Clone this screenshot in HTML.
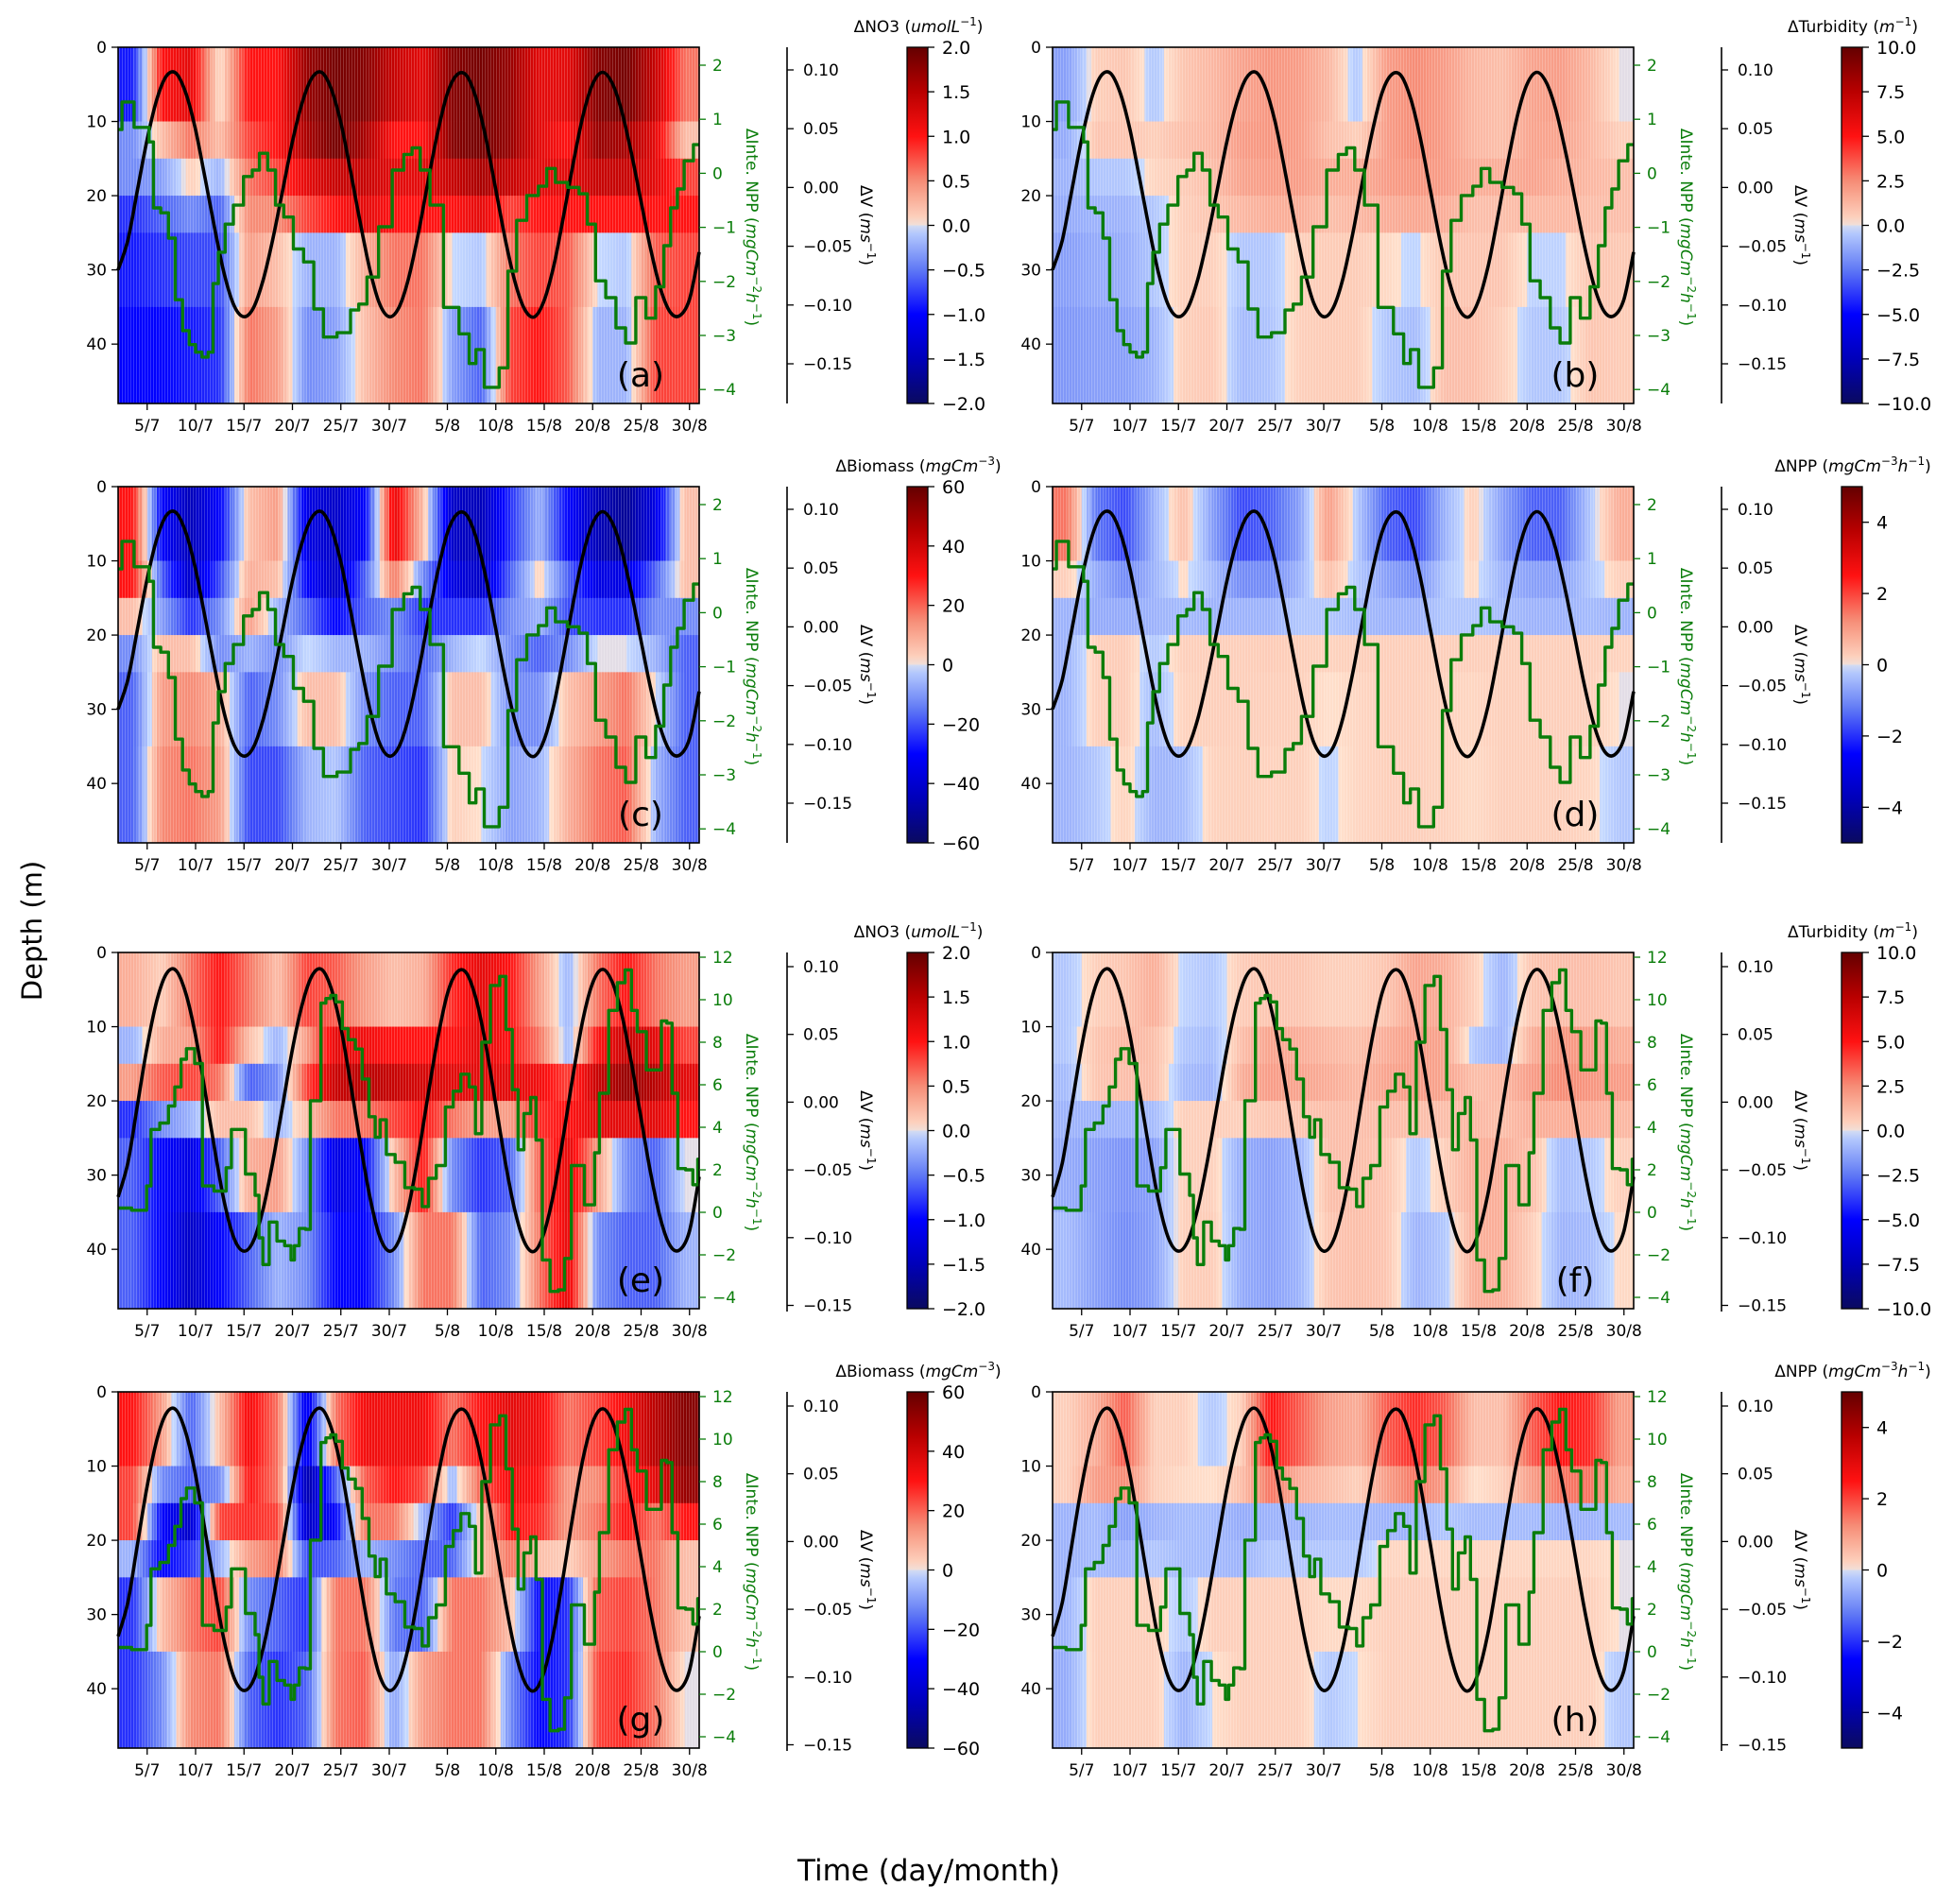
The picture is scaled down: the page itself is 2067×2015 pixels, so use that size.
<!DOCTYPE html>
<html><head><meta charset="utf-8">
<style>
html,body{margin:0;padding:0;background:#fff;}
svg{display:block;font-family:"DejaVu Sans","Liberation Sans",sans-serif;}
</style></head>
<body>
<svg id="fig" width="2067" height="2015" viewBox="0 0 2067 2015" xmlns="http://www.w3.org/2000/svg">
<defs>
<pattern id="stripes" width="3" height="10" patternUnits="userSpaceOnUse"><rect x="0" y="0" width="1" height="10" fill="#fff" opacity="0.2"/></pattern>
</defs>
<text x="0" y="0" transform="translate(44,985) rotate(-90)" text-anchor="middle" font-size="29">Depth (m)</text>
<text x="983" y="1990" text-anchor="middle" font-size="31">Time (day/month)</text>
</svg>
<script>
// ---- shared data ----
const layerDepths = [0, 10, 15, 20, 25, 35, 48];
const dateTicksDay = [3, 8, 13, 18, 23, 28, 34, 39, 44, 49, 54, 59];
const dateTickLabels = ["5/7","10/7","15/7","20/7","25/7","30/7","5/8","10/8","15/8","20/8","25/8","30/8"];
const depthTicks = [0, 10, 20, 30, 40];
// velocity anomaly, one value per day from 2/7
const vVals = [-0.07,-0.045,-0.002,0.041,0.075,0.095,0.097,0.080,0.049,0.007,
-0.036,-0.075,-0.101,-0.110,-0.102,-0.078,-0.043,-0.002,0.039,0.072,
0.093,0.098,0.084,0.055,0.014,-0.030,-0.070,-0.099,-0.110,-0.102,
-0.077,-0.039,0.005,0.047,0.080,0.096,0.095,0.075,0.041,-0.002,
-0.045,-0.081,-0.104,-0.110,-0.096,-0.066,-0.024,0.021,0.061,0.088,
0.098,0.089,0.065,0.029,-0.012,-0.053,-0.086,-0.106,-0.109,-0.095,-0.055];
const vTicks = [0.10, 0.05, 0.00, -0.05, -0.10, -0.15];
// integrated NPP anomaly, scenario 1 (rows 1-2)
const nppT1 = [0,0.8,1.4,1.9,3,3.4,3.9,4.9,5.5,6.3,7,7.7,8.3,9,9.6,10,10.7,11.4,12.4,13.5,14.2,15,15.9,16.6,17.6,18.6,19.7,20.7,21.7,23.5,24.5,25.2,26.2,27.6,29,30,30.7,31.7,32.7,34.5,35.9,36.6,37.3,38.3,39,39.7,40.8,41.5,42.9,43.9,44.6,45.7,47.1,48.1,48.8,49.8,50.9,51.9,52.9,54,55,56,56.7,57.4,58.1,58.8,60];
const nppV1 = [0.81,1.32,1.32,0.85,0.85,0.58,-0.64,-0.73,-1.2,-2.34,-2.91,-3.17,-3.31,-3.4,-3.31,-2.04,-1.46,-0.94,-0.59,-0.06,0.06,0.37,0.06,-0.59,-0.81,-1.4,-1.64,-2.51,-3.03,-2.95,-2.53,-2.42,-1.92,-0.99,0.06,0.35,0.47,0.06,-0.59,-2.48,-2.97,-3.52,-3.26,-3.96,-3.96,-3.6,-1.81,-0.87,-0.41,-0.24,0.09,-0.17,-0.26,-0.38,-0.94,-1.99,-2.3,-2.86,-3.14,-2.3,-2.68,-2.1,-1.34,-0.64,-0.29,0.23,0.53];
const nppTicks1 = [2, 1, 0, -1, -2, -3, -4];
// integrated NPP anomaly, scenario 2 (rows 3-4)
const nppT3 = [0,2.8,3.1,3.7,4.9,5.5,6.2,6.8,7.3,8.5,8.9,10.9,11.4,12,13,13.3,14,14.3,14.8,15.1,16.1,16.7,17.7,18,18.4,19,19.7,20,20.8,21.1,21.8,22.1,22.9,23.4,24.1,24.9,25.5,26.3,26.8,27.3,28.1,29.1,30.1,31.1,31.7,32.4,33.3,34.3,34.9,35.9,36.6,37.2,37.9,39,39.8,40.3,41.1,41.5,42.3,42.9,43.4,44.2,45,45.9,46.3,47.3,48,48.3,49.1,49.3,50.1,51.2,51.9,52.8,53.2,54,55.1,55.9,56.3,57,57.4,58.2,59,59.7,60];
const nppV3 = [0.2,0.1,1.24,3.9,4.2,5.0,5.9,7.2,7.7,7.0,1.24,1.0,2.1,3.9,3.9,1.8,1.8,0.8,-1.2,-2.46,-0.46,-1.35,-1.57,-2.24,-1.57,-0.76,-0.8,5.25,5.25,9.84,10.06,10.2,9.9,8.64,8.12,7.68,6.27,4.5,3.53,4.35,2.72,2.35,1.16,1.09,0.27,1.6,2.2,4.95,5.7,6.5,5.9,3.7,8.0,10.67,11.1,8.6,5.77,2.94,4.65,5.4,3.4,-2.24,-3.72,-3.65,-2.17,2.2,2.2,0.35,0.35,2.8,5.6,9.5,10.8,11.4,9.5,8.5,6.7,6.7,9.0,8.9,5.6,2.06,2.0,1.3,2.5];
const nppTicks3 = [12, 10, 8, 6, 4, 2, 0, -2, -4];

// heatmap anomalies (fraction of colour range), layers x 3-day segments
const heatA = [
[-0.45,0.5,0.6,0.0,0.5,0.5,0.85,0.95,0.9,0.7,0.6,0.9,0.95,0.85,0.6,0.6,0.9,0.95,0.7,0.3],
[-0.2,0.1,0.3,0.1,0.4,0.5,0.8,0.95,0.8,0.5,0.5,0.9,0.95,0.85,0.6,0.5,0.85,0.8,0.6,0.1],
[-0.2,-0.15,0.05,-0.1,0.3,0.4,0.6,0.7,0.7,0.6,0.6,0.7,0.8,0.7,0.6,0.6,0.7,0.7,0.6,0.4],
[-0.4,-0.3,-0.2,-0.3,0.25,0.25,0.4,0.5,0.6,0.5,0.5,0.5,0.6,0.4,0.5,0.5,0.5,0.5,0.5,0.5],
[-0.45,-0.4,-0.35,-0.35,0.2,0.1,-0.1,-0.1,0.15,0.3,0.3,0.0,-0.05,0.3,0.4,0.35,0.0,-0.05,0.35,0.4],
[-0.5,-0.5,-0.45,-0.4,0.3,0.2,-0.2,-0.15,0.1,0.25,0.3,-0.15,-0.3,0.4,0.5,0.35,-0.1,-0.1,0.4,0.4]];
const heatB = [
[-0.15,0.05,0.08,-0.05,0.08,0.12,0.18,0.22,0.2,0.12,-0.05,0.2,0.25,0.2,0.12,0.1,0.18,0.2,0.12,0.0],
[-0.12,0.08,0.08,0.05,0.1,0.12,0.2,0.22,0.2,0.1,0.05,0.2,0.25,0.2,0.12,0.1,0.18,0.18,0.12,0.05],
[-0.1,-0.05,-0.05,0.03,0.06,0.1,0.18,0.2,0.2,0.15,0.15,0.2,0.22,0.2,0.15,0.15,0.18,0.15,0.12,0.1],
[-0.12,-0.1,-0.1,-0.05,0.05,0.08,0.12,0.15,0.15,0.1,0.12,0.15,0.17,0.15,0.1,0.1,0.12,0.12,0.1,0.1],
[-0.15,-0.12,-0.12,-0.05,0.05,0.05,-0.05,-0.05,0.05,0.06,0.06,0.02,-0.02,0.08,0.08,0.08,-0.02,-0.02,0.08,0.07],
[-0.17,-0.15,-0.15,-0.1,0.05,0.07,-0.08,-0.06,0.05,0.06,0.06,-0.05,-0.08,0.1,0.1,0.05,-0.05,-0.05,0.08,0.06]];
const heatC = [
[0.5,-0.5,-0.75,-0.5,0.1,0.2,-0.6,-0.7,-0.5,0.6,0.1,-0.7,-0.75,-0.4,-0.1,-0.5,-0.75,-0.85,-0.6,0.1],
[0.5,-0.3,-0.7,-0.35,0.15,0.1,-0.5,-0.7,-0.3,0.3,-0.2,-0.6,-0.7,-0.3,0.05,-0.3,-0.6,-0.6,-0.3,0.1],
[0.1,-0.15,-0.4,-0.2,0.2,-0.1,-0.3,-0.5,-0.3,-0.2,-0.4,-0.4,-0.4,-0.2,-0.1,-0.35,-0.4,-0.4,-0.2,-0.2],
[-0.2,0.1,0.1,-0.2,-0.1,-0.2,0.0,-0.1,-0.1,-0.2,-0.3,-0.1,0.0,-0.2,-0.3,-0.2,0.0,0.0,-0.1,-0.3],
[-0.3,0.2,0.25,0.15,-0.3,-0.2,0.1,0.1,-0.2,-0.3,-0.3,0.1,0.1,-0.2,-0.2,0.1,0.2,0.3,0.0,-0.3],
[-0.3,0.25,0.3,0.2,-0.35,-0.35,-0.1,-0.05,-0.3,-0.35,-0.4,0.05,0.0,-0.15,-0.1,0.15,0.3,0.35,-0.1,-0.3]];
const heatD = [
[0.3,-0.25,-0.35,-0.1,0.1,-0.15,-0.35,-0.3,-0.15,0.2,-0.05,-0.3,-0.35,-0.1,0.05,-0.15,-0.3,-0.3,-0.05,0.15],
[0.05,-0.12,-0.2,-0.1,0.02,-0.08,-0.2,-0.2,-0.1,0.1,-0.05,-0.15,-0.2,-0.05,0.02,-0.1,-0.15,-0.15,-0.05,0.05],
[-0.1,-0.12,-0.12,-0.1,-0.08,-0.1,-0.1,-0.1,-0.05,-0.05,-0.08,-0.1,-0.1,-0.05,-0.05,-0.08,-0.1,-0.1,-0.08,-0.1],
[-0.1,0.05,0.06,-0.05,0.05,0.05,0.05,0.06,0.05,0.04,0.05,0.05,0.05,0.05,0.05,0.05,0.05,0.05,0.05,0.04],
[-0.1,0.05,0.06,-0.08,0.04,0.05,0.05,0.05,0.05,0.0,0.03,0.05,0.05,0.04,0.03,0.05,0.05,0.05,0.05,0.0],
[-0.1,-0.05,0.04,-0.1,-0.08,0.04,0.05,0.04,0.05,-0.02,0.03,0.05,0.05,0.04,0.02,0.05,0.05,0.05,0.03,-0.05]];
const heatE = [
[0.15,0.05,0.3,0.5,0.3,0.1,0.4,0.35,0.2,0.1,0.15,0.45,0.6,0.5,0.2,-0.1,0.3,0.5,0.3,0.2],
[-0.1,0.15,0.2,0.5,0.1,-0.1,0.2,0.6,0.55,0.5,0.5,0.5,0.6,0.5,0.3,-0.1,0.5,0.7,0.6,0.4],
[0.2,0.35,0.4,0.3,-0.3,-0.2,0.4,0.7,0.75,0.7,0.65,0.6,0.6,0.6,0.55,0.4,0.7,0.85,0.75,0.6],
[-0.4,-0.2,-0.1,0.1,0.1,-0.1,0.1,0.3,0.3,0.4,0.5,0.3,0.2,0.2,0.45,0.5,0.6,0.6,0.6,0.5],
[-0.3,-0.5,-0.6,-0.3,0.15,0.2,-0.2,-0.6,-0.5,0.1,0.5,-0.2,-0.4,-0.3,0.35,0.6,0.2,-0.2,-0.3,0.0],
[-0.3,-0.5,-0.7,-0.5,-0.3,-0.1,-0.2,-0.5,-0.5,-0.2,0.3,0.3,-0.3,-0.2,0.3,0.6,-0.2,-0.3,-0.3,-0.1]];
const heatF = [
[-0.05,0.05,0.08,0.15,-0.02,-0.05,0.06,0.08,0.08,0.05,0.05,0.08,0.18,0.15,0.05,-0.1,0.08,0.1,0.1,0.08],
[-0.05,0.08,0.12,0.1,-0.05,-0.08,0.1,0.18,0.15,0.12,0.1,0.15,0.2,0.18,-0.05,-0.1,0.15,0.22,0.2,0.15],
[-0.08,0.08,0.1,0.1,-0.08,-0.1,0.15,0.2,0.18,0.15,0.12,0.18,0.2,0.18,0.1,0.12,0.2,0.25,0.22,0.2],
[-0.1,-0.1,-0.1,-0.08,0.05,0.05,0.05,0.08,0.08,0.1,0.1,0.1,0.1,0.1,0.12,0.1,0.15,0.15,0.15,0.12],
[-0.12,-0.15,-0.18,-0.15,0.05,0.05,-0.12,-0.15,-0.1,0.1,0.1,0.08,-0.05,0.05,0.15,0.15,0.1,-0.08,-0.05,0.05],
[-0.08,-0.15,-0.2,-0.15,0.05,0.06,-0.12,-0.15,-0.1,0.08,0.1,0.08,-0.1,-0.05,0.15,0.15,0.05,-0.1,-0.08,0.02]];
const heatG = [
[0.5,0.2,-0.3,0.1,0.55,0.3,-0.6,0.3,0.55,0.55,0.55,0.3,0.5,0.6,0.55,0.3,0.4,0.55,0.75,0.9],
[0.4,-0.2,-0.3,-0.2,0.5,0.3,-0.8,-0.3,0.35,0.5,0.4,-0.1,0.35,0.55,0.5,0.2,0.25,0.45,0.6,0.85],
[0.4,-0.5,-0.7,0.4,0.45,0.4,-0.7,-0.5,0.3,0.3,-0.1,-0.4,0.1,0.5,0.45,0.2,0.3,0.5,0.3,0.5],
[-0.1,-0.5,-0.4,-0.1,0.2,0.3,-0.35,-0.3,-0.1,-0.2,-0.3,-0.3,0.1,0.3,0.1,0.05,0.2,0.3,0.3,0.1],
[-0.4,0.1,0.3,0.4,-0.2,-0.3,-0.4,0.3,0.3,-0.25,-0.3,0.3,0.3,0.1,-0.5,-0.4,0.35,0.4,0.3,0.1],
[-0.4,-0.2,0.25,0.3,-0.3,-0.4,-0.3,0.3,0.35,-0.15,0.2,0.3,0.3,-0.2,-0.5,-0.4,0.4,0.45,0.3,0.0]];
const heatH = [
[0.05,0.15,0.35,0.05,0.05,-0.05,0.05,0.5,0.35,0.2,0.15,0.35,0.45,0.35,0.1,0.1,0.35,0.5,0.45,0.2],
[0.05,0.2,0.25,0.05,0.02,0.0,0.1,0.3,0.15,0.1,0.05,0.2,0.3,0.2,0.0,0.05,0.2,0.3,0.3,0.15],
[-0.1,-0.08,-0.15,-0.1,-0.08,-0.08,-0.12,-0.1,-0.1,-0.08,-0.08,-0.1,-0.1,-0.05,-0.08,-0.08,-0.08,-0.1,-0.1,-0.08],
[-0.1,-0.08,-0.1,-0.05,-0.08,-0.08,-0.1,-0.05,-0.05,-0.05,-0.05,0.03,0.03,0.03,0.03,0.03,0.03,0.03,0.03,0.0],
[-0.1,0.05,0.05,0.05,-0.05,0.05,0.05,0.05,0.05,0.02,0.02,0.05,0.05,0.05,0.05,0.05,0.05,0.05,0.05,0.0],
[-0.12,0.05,0.05,0.05,-0.1,0.0,0.05,0.05,0.05,-0.05,0.0,0.05,0.05,0.05,0.05,0.05,0.05,0.05,0.05,-0.05]];

const cbNO3 = [2.0,1.5,1.0,0.5,0.0,-0.5,-1.0,-1.5,-2.0];
const cbTurb = [10.0,7.5,5.0,2.5,0.0,-2.5,-5.0,-7.5,-10.0];
const cbBio = [60,40,20,0,-20,-40,-60];
const cbNPP = [4,2,0,-2,-4];

// ---- rendering ----
const NS = "http://www.w3.org/2000/svg";
const svg = document.getElementById('fig');
function mk(tag, attrs, parent) {
  const e = document.createElementNS(NS, tag);
  for (const k in attrs) e.setAttribute(k, attrs[k]);
  (parent || svg).appendChild(e);
  return e;
}
const stops = [[-1,[10,10,95]],[-0.75,[0,0,185]],[-0.5,[0,0,255]],[-0.25,[95,120,245]],[-0.0001,[198,218,255]],[0.0001,[255,224,204]],[0.25,[246,140,118]],[0.5,[255,18,18]],[0.75,[185,0,0]],[1,[100,0,0]]];
function cmap(v) {
  v = Math.max(-1, Math.min(1, v));
  for (let i = 0; i < stops.length - 1; i++) {
    const a = stops[i], b = stops[i+1];
    if (v >= a[0] && v <= b[0]) {
      const f = (v - a[0]) / (b[0] - a[0]);
      const c = a[1].map((x, j) => Math.round(x + (b[1][j] - x) * f));
      return 'rgb(' + c.join(',') + ')';
    }
  }
  return 'rgb(255,255,255)';
}
function fmtMinus(s) { return String(s).replace('-', '\u2212'); }

const colX = [125, 1114];
const rowY = [50, 515, 1008, 1473];
const PW = 615, PH = 377, DAYS = 60, DMAX = 48;
const panels = [
  {id:'a', heat:heatA, row:0, col:0, cb:cbNO3, vmax:2, dec:1, title:'\u0394NO3 ', unit:'umolL', sup:'\u22121'},
  {id:'b', heat:heatB, row:0, col:1, cb:cbTurb, vmax:10, dec:1, title:'\u0394Turbidity ', unit:'m', sup:'\u22121'},
  {id:'c', heat:heatC, row:1, col:0, cb:cbBio, vmax:60, dec:0, title:'\u0394Biomass ', unit:'mgCm', sup:'\u22123'},
  {id:'d', heat:heatD, row:1, col:1, cb:cbNPP, vmax:5, dec:0, title:'\u0394NPP ', unit:'mgCm', sup:'\u22123', unit2:'h', sup2:'\u22121'},
  {id:'e', heat:heatE, row:2, col:0, cb:cbNO3, vmax:2, dec:1, title:'\u0394NO3 ', unit:'umolL', sup:'\u22121'},
  {id:'f', heat:heatF, row:2, col:1, cb:cbTurb, vmax:10, dec:1, title:'\u0394Turbidity ', unit:'m', sup:'\u22121'},
  {id:'g', heat:heatG, row:3, col:0, cb:cbBio, vmax:60, dec:0, title:'\u0394Biomass ', unit:'mgCm', sup:'\u22123'},
  {id:'h', heat:heatH, row:3, col:1, cb:cbNPP, vmax:5, dec:0, title:'\u0394NPP ', unit:'mgCm', sup:'\u22123', unit2:'h', sup2:'\u22121'}
];

function addText(parent, x, y, txt, size, anchor, fill) {
  const t = mk('text', {x:x, y:y, 'font-size':size, 'text-anchor':anchor || 'start', fill: fill || '#000'}, parent);
  t.textContent = txt;
  return t;
}

panels.forEach(p => {
  const x0 = colX[p.col], y0 = rowY[p.row];
  const g = mk('g', {});
  
  
  const xS = t => x0 + t / DAYS * PW;
  const yS = d => y0 + d / DMAX * PH;
  const late = p.row >= 2;
  const greenY = late ? (v => y0 + 5 + (12 - v) * 22.5) : (v => y0 + 19 + (2 - v) * 57.2);
  const vY = late ? (v => y0 + 15 + (0.10 - v) / 0.05 * 71.7) : (v => y0 + 24 + (0.10 - v) / 0.05 * 62.2);

  const hm = mk('g', {}, g);
  
  
  const nSeg = p.heat[0].length, segLen = DAYS / nSeg, nCol = 120;
  for (let L = 0; L < p.heat.length; L++) {
    const vals = p.heat[L];
    for (let c = 0; c < nCol; c++) {
      const t0 = c * DAYS / nCol, t1 = (c + 1) * DAYS / nCol, tc = (t0 + t1) / 2;
      let s = tc / segLen - 0.5;
      s = Math.max(0, Math.min(nSeg - 1, s));
      const i = Math.floor(s), j = Math.min(nSeg - 1, i + 1), f = s - i;
      const v = vals[i] + (vals[j] - vals[i]) * f;
      const r = mk('rect', {x:xS(t0).toFixed(2), y:yS(layerDepths[L]).toFixed(2), width:(xS(t1)-xS(t0)+0.6).toFixed(2), height:(yS(layerDepths[L+1])-yS(layerDepths[L])+0.4).toFixed(2), fill:cmap(v)}, hm);
      
      
    }
  }
  const st = mk('rect', {x:x0, y:y0, width:PW, height:PH, fill:'url(#stripes)'}, g);
  
  

  const pts = vVals.map((v, i) => [xS(i), vY(v)]);
  let d = 'M' + pts[0][0].toFixed(1) + ',' + pts[0][1].toFixed(1);
  for (let i = 0; i < pts.length - 1; i++) {
    const p0 = pts[Math.max(0, i-1)], p1 = pts[i], p2 = pts[i+1], p3 = pts[Math.min(pts.length-1, i+2)];
    const c1 = [p1[0] + (p2[0]-p0[0])/6, p1[1] + (p2[1]-p0[1])/6];
    const c2 = [p2[0] - (p3[0]-p1[0])/6, p2[1] - (p3[1]-p1[1])/6];
    d += ' C' + c1[0].toFixed(1) + ',' + c1[1].toFixed(1) + ' ' + c2[0].toFixed(1) + ',' + c2[1].toFixed(1) + ' ' + p2[0].toFixed(1) + ',' + p2[1].toFixed(1);
  }
  const vl = mk('path', {d:d, fill:'none', stroke:'#000', 'stroke-width':3.6}, g);
  
  

  // NPP line (green), step-mid
  const T = late ? nppT3 : nppT1, V = late ? nppV3 : nppV1;
  let gd = 'M' + xS(T[0]).toFixed(1) + ',' + greenY(V[0]).toFixed(1);
  for (let i = 1; i < T.length; i++) {
    const xm = xS((T[i-1] + T[i]) / 2);
    gd += ' H' + xm.toFixed(1) + ' V' + greenY(V[i]).toFixed(1);
  }
  gd += ' H' + xS(T[T.length-1]).toFixed(1);
  const gl = mk('path', {d:gd, fill:'none', stroke:'#0a7d0a', 'stroke-width':3.4, 'stroke-linejoin':'round'}, g);
  
  

  const fr = mk('rect', {x:x0, y:y0, width:PW, height:PH, fill:'none', stroke:'#000', 'stroke-width':1.6}, g);
  
  

  depthTicks.forEach(dv => {
    mk('line', {x1:x0-7, x2:x0, y1:yS(dv), y2:yS(dv), stroke:'#000', 'stroke-width':1.3}, g);
    const t = addText(g, x0-12, yS(dv)+6, String(dv), 17, 'end');
    
    
  });
  dateTicksDay.forEach((dd, i) => {
    mk('line', {x1:xS(dd), x2:xS(dd), y1:y0+PH, y2:y0+PH+7, stroke:'#000', 'stroke-width':1.3}, g);
    const t = addText(g, xS(dd), y0+PH+29, dateTickLabels[i], 17, 'middle');
    
    
  });
  (late ? nppTicks3 : nppTicks1).forEach(v => {
    mk('line', {x1:x0+PW, x2:x0+PW+7, y1:greenY(v), y2:greenY(v), stroke:'#0a7d0a', 'stroke-width':1.3}, g);
    const t = addText(g, x0+PW+14, greenY(v)+6, fmtMinus(v), 17, 'start', '#0a7d0a');
    
    
  });
  const gt = mk('text', {transform:'translate(' + (x0+665) + ',' + (y0+PH/2+2) + ') rotate(90)', 'font-size':17, 'text-anchor':'middle', fill:'#0a7d0a'}, g);
  
  
  gt.innerHTML = '\u0394Inte. NPP (<tspan font-style="italic">mgCm</tspan><tspan font-size="12" dy="-7">\u22122</tspan><tspan font-style="italic" dy="7">h</tspan><tspan font-size="12" dy="-7">\u22121</tspan><tspan dy="7">)</tspan>';

  const ax = x0 + 708;
  mk('line', {x1:ax, x2:ax, y1:y0, y2:y0+PH+(late?3:0), stroke:'#000', 'stroke-width':1.6}, g);
  vTicks.forEach(v => {
    mk('line', {x1:ax, x2:ax+7, y1:vY(v), y2:vY(v), stroke:'#000', 'stroke-width':1.3}, g);
    const t = addText(g, ax+17, vY(v)+6, fmtMinus(v.toFixed(2)), 17, 'start');
    
    
  });
  const vt = mk('text', {transform:'translate(' + (x0+786) + ',' + (y0+PH/2) + ') rotate(90)', 'font-size':17, 'text-anchor':'middle'}, g);
  
  
  vt.innerHTML = '\u0394V (<tspan font-style="italic">ms</tspan><tspan font-size="12" dy="-7">\u22121</tspan><tspan dy="7">)</tspan>';

  const cx = x0 + 835, cw = 22;
  const gid = 'grad' + p.id;
  const lg = mk('linearGradient', {id:gid, x1:0, y1:1, x2:0, y2:0}, svg.querySelector('defs'));
  for (let k = 0; k <= 40; k++) {
    const v = -1 + k / 20;
    mk('stop', {offset:(k/40), 'stop-color':cmap(v === 0 ? -0.00005 : v)}, lg);
    if (k === 20) mk('stop', {offset:0.5, 'stop-color':cmap(0.00005)}, lg);
  }
  const cb = mk('rect', {x:cx, y:y0, width:cw, height:PH, fill:'url(#' + gid + ')', stroke:'#000', 'stroke-width':1.3}, g);
  
  
  p.cb.forEach(v => {
    const yy = y0 + (1 - v / p.vmax) / 2 * PH;
    mk('line', {x1:cx+cw, x2:cx+cw+7, y1:yy, y2:yy, stroke:'#000', 'stroke-width':1.3}, g);
    const t = addText(g, cx+cw+15, yy+7, fmtMinus(v.toFixed(p.dec)), 19, 'start');
    
    
  });
  const ct = mk('text', {x:cx+cw/2+1, y:y0-16, 'font-size':17, 'text-anchor':'middle'}, g);
  
  
  let h = p.title + '(<tspan font-style="italic">' + p.unit + '</tspan><tspan font-size="12" dy="-7">' + p.sup + '</tspan>';
  if (p.unit2) h += '<tspan font-style="italic" dy="7">' + p.unit2 + '</tspan><tspan font-size="12" dy="-7">' + p.sup2 + '</tspan>';
  h += '<tspan dy="7">)</tspan>';
  ct.innerHTML = h;

  const pl = addText(g, x0+553, y0+359, '(' + p.id + ')', 36, 'middle');
  
  
});
</script>
</body></html>
